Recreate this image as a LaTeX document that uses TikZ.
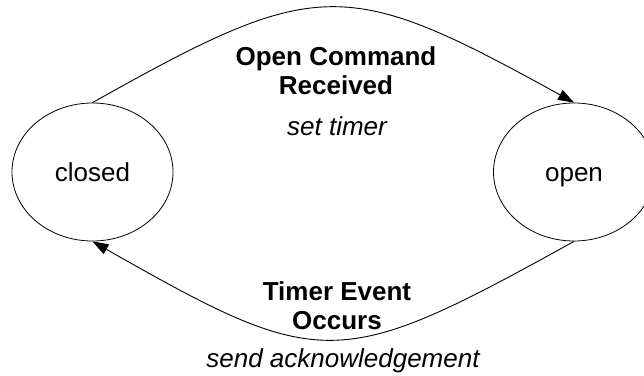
\documentclass[tikz,border=0pt]{standalone}
\usepackage{fontspec}
\setmainfont{Liberation Sans}
\usetikzlibrary{shapes.geometric,arrows.meta}
\tikzset{
  state/.style={draw, ellipse, line width=0.8pt, minimum width=161pt, minimum height=138pt,
    inner sep=0pt, text height=18pt, text depth=0pt, font=\fontsize{26}{29}\selectfont},
  trans/.style={draw, line width=0.9pt, -{Triangle[length=16pt,width=11pt]}},
  evt/.style={align=center, inner sep=0pt, anchor=base, font=\fontsize{26}{29}\selectfont\bfseries},
  act/.style={inner sep=0pt, anchor=base, font=\fontsize{26}{29}\selectfont\itshape}
}
\begin{document}
\begin{tikzpicture}[x=1pt,y=-1pt]
\useasboundingbox (0,0) rectangle (644,375);
\node[state] (closed) at (92.5,172) {closed};
\node[state] (open) at (574,172) {open};
\draw[trans] (closed.north) .. controls (318,-24) and (345,-24) .. (open.north);
\draw[trans] (open.south) .. controls (338,372) and (322,372) .. (closed.south);
\node[evt] (ev1) at (336,94) {Open Command\\Received};
\node[act] (ac1) at (337,135) {set timer};
\node[evt] (ev2) at (337,329) {Timer Event\\Occurs};
\node[act] (ac2) at (343,367) {send acknowledgement};
\end{tikzpicture}
\end{document}
